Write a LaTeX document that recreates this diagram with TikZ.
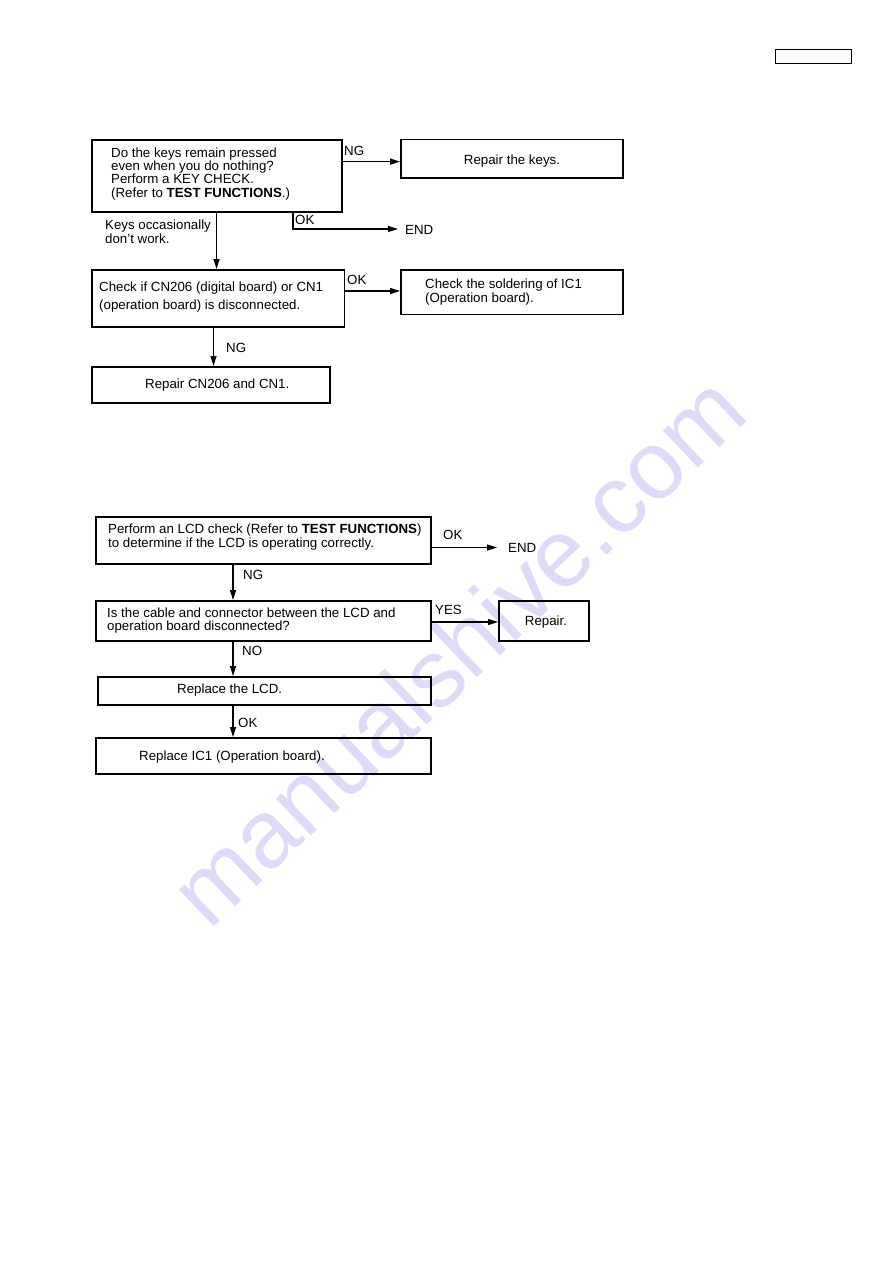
\documentclass[tikz,border=0pt]{standalone}
\usepackage{fontspec}
\setmainfont{Liberation Sans}
\usetikzlibrary{arrows.meta}
\definecolor{wm}{RGB}{220,220,249}
\tikzset{
  box/.style={draw, line width=1.7pt, inner sep=0pt, anchor=north west},
  txt/.style={inner sep=0pt, anchor=west, align=left},
  lbl/.style={inner sep=0pt, anchor=west, font=\fontsize{13.3}{14}\selectfont},
  ctr/.style={inner sep=0pt, font=\fontsize{13.3}{14}\selectfont},
  arr/.style={line width=1.5pt, -{Triangle[length=10pt,width=6pt]}},
}
\begin{document}
\begin{tikzpicture}[x=1pt,y=-1pt]
\fill[white] (0,0) rectangle (893,1263);
\useasboundingbox (0,0) rectangle (893,1263);

% watermark
\node[rotate=43.5, text=wm, inner sep=0pt, font=\fontsize{96}{96}\selectfont] (wmk) at (457,650) {manualshive.com};

% header box
\node[box, line width=1.3pt, minimum width=76pt, minimum height=14pt] (hdr) at (775,49) {};

% ---------- chart 1 ----------
\node[box, minimum width=250pt, minimum height=72pt] (b1) at (91,139) {};
\node[txt, font=\fontsize{13.3}{13.1}\selectfont] (t1) at (111,174) {Do the keys remain pressed\\even when you do nothing?\\Perform a KEY CHECK.\\(Refer to \textbf{TEST FUNCTIONS}.)};

\node[box, minimum width=222pt, minimum height=38.5pt] (r1) at (400,138.5) {};
\node[ctr] (tr1) at (512,161) {Repair the keys.};

\node[lbl] (ng1) at (344,151) {NG};
\draw[arr] ([yshift=-3pt]b1.east |- r1.west) -- ([yshift=-3pt]r1.west);

\coordinate (kx) at (216.5,0);
\node[txt, font=\fontsize{13.3}{14}\selectfont] (keys) at (105,232) {Keys occasionally\\don\char39 t work.};

\node[box, minimum width=252.5pt, minimum height=57pt] (b2) at (91,269) {};
\node[txt, font=\fontsize{13.3}{17.3}\selectfont] (t2) at (99,297) {Check if CN206 (digital board) or CN1\\(operation board) is disconnected.};
\draw[arr] (b1.south -| kx) -- (b2.north -| kx);

\node[lbl] (ok1) at (295,220) {OK};
\node[lbl] (end1) at (405,230) {END};
\coordinate (okx) at (293,0);
\draw[arr] (b1.south -| okx) |- ([xshift=-7pt,yshift=1pt]end1.west);

\node[box, minimum width=222pt, minimum height=44.5pt] (c1) at (400,269) {};
\node[txt, font=\fontsize{13.3}{14}\selectfont] (tc1) at (425,292) {Check the soldering of IC1\\(Operation board).};
\node[lbl] (ok2) at (347,280) {OK};
\coordinate (oky) at (0,291);
\draw[arr] (b2.east |- oky) -- (c1.west |- oky);

\node[box, minimum width=238pt, minimum height=36pt] (b3) at (91,366) {};
\node[lbl] (tb3) at (145,385.5) {Repair CN206 and CN1.};
\node[lbl] (ng2) at (226,348) {NG};
\coordinate (nx) at (213.5,0);
\draw[arr] (b2.south -| nx) -- (b3.north -| nx);

% ---------- chart 2 ----------
\coordinate (cx) at (233,0);
\node[box, minimum width=335pt, minimum height=47pt] (b4) at (95,516) {};
\node[txt, font=\fontsize{13.3}{14}\selectfont] (t4) at (108,537.5) {Perform an LCD check (Refer to \textbf{TEST FUNCTIONS})\\to determine if the LCD is operating correctly.};
\node[lbl] (ok3) at (443,535) {OK};
\node[lbl] (end2) at (508,547.5) {END};
\draw[arr] (b4.east |- end2.west) -- ([xshift=-11pt]end2.west);

\node[box, minimum width=335pt, minimum height=40pt] (b5) at (95,600) {};
\node[txt, font=\fontsize{13.3}{13.3}\selectfont] (t5) at (107,620.5) {Is the cable and connector between the LCD and\\operation board disconnected?};
\node[lbl] (ng3) at (243,575) {NG};
\draw[arr] (b4.south -| cx) -- (b5.north -| cx);

\node[box, minimum width=90pt, minimum height=40pt] (rep) at (498,600) {};
\node[ctr] (trep) at (546,622) {Repair.};
\node[lbl] (yes) at (435,610) {YES};
\coordinate (yy) at (0,622);
\draw[arr] (b5.east |- yy) -- (rep.west |- yy);

\node[box, minimum width=333pt, minimum height=28pt] (b6) at (97,676) {};
\node[lbl] (t6) at (177,690.5) {Replace the LCD.};
\node[lbl] (no) at (242,651) {NO};
\draw[arr] (b5.south -| cx) -- (b6.north -| cx);

\node[box, minimum width=335pt, minimum height=36pt] (b7) at (95,737) {};
\node[lbl] (t7) at (139,757) {Replace IC1 (Operation board).};
\node[lbl] (ok4) at (238,723) {OK};
\draw[arr] (b6.south -| cx) -- (b7.north -| cx);
\end{tikzpicture}
\end{document}
